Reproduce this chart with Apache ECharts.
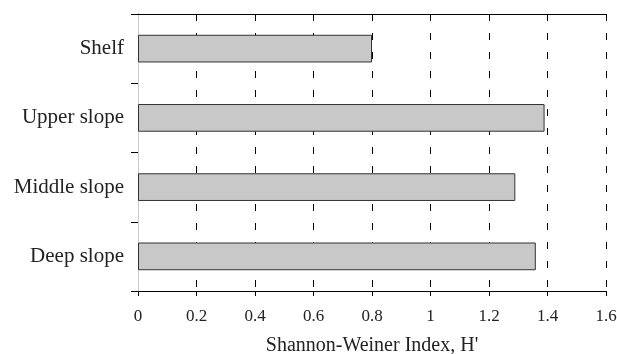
<!DOCTYPE html>
<html><head><meta charset="utf-8">
<script src="https://cdn.jsdelivr.net/npm/echarts@6/dist/echarts.min.js"></script>
<style>html,body{margin:0;padding:0;background:#fff}#c{width:617px;height:354px}</style>
</head><body><div id="c"></div>
<script>
const categories = ["Shelf", "Upper slope", "Middle slope", "Deep slope"];
const values = [0.80, 1.39, 1.29, 1.36];
const xTicks = [0, 0.2, 0.4, 0.6, 0.8, 1, 1.2, 1.4, 1.6];
const xTitle = "Shannon-Weiner Index, H'";

const chart = echarts.init(document.getElementById('c'));
const font = "'Liberation Serif', 'Times New Roman', serif";
chart.setOption({
  animation: false,
  grid: {left: 138, right: 11, top: 14, bottom: 63, outerBoundsMode: 'none', containLabel: false},
  xAxis: [{
    type: 'value', min: 0, max: 1.6, interval: 0.2,
    axisLine: {show: true, lineStyle: {color: '#000', width: 1}},
    axisTick: {show: true, length: 5, lineStyle: {color: '#000'}},
    axisLabel: {color: '#222', fontFamily: font, fontSize: 17, margin: 17,
      formatter: v => { const t = xTicks.find(x => Math.abs(x - v) < 1e-6); return t === undefined ? '' : String(t); }},
    splitLine: {show: true, lineStyle: {color: '#000', type: [7, 12], width: 1}},
    name: xTitle, nameLocation: 'middle', nameGap: 45,
    nameTextStyle: {color: '#222', fontFamily: font, fontSize: 20}
  }, {
    type: 'value', position: 'top', min: 0, max: 1.6, interval: 0.2,
    axisLine: {show: true, lineStyle: {color: '#000', width: 1}},
    axisTick: {show: false}, axisLabel: {show: false}, splitLine: {show: false}
  }],
  yAxis: [{
    type: 'category', data: categories, inverse: true,
    axisLine: {show: true, lineStyle: {color: '#000', width: 1}},
    axisTick: {show: true, length: 7, alignWithLabel: false, lineStyle: {color: '#000'}},
    axisLabel: {color: '#222', fontFamily: font, fontSize: 21, margin: 14},
    splitLine: {show: false}
  }, {
    type: 'category', data: categories, inverse: true, position: 'right',
    axisLine: {show: true, lineStyle: {color: '#ccc', width: 1}},
    axisTick: {show: false}, axisLabel: {show: false}
  }],
  series: [{
    type: 'bar', data: values, barWidth: '40%',
    itemStyle: {color: '#c8c8c8', borderColor: '#333', borderWidth: 1}
  }]
});
</script></body></html>
